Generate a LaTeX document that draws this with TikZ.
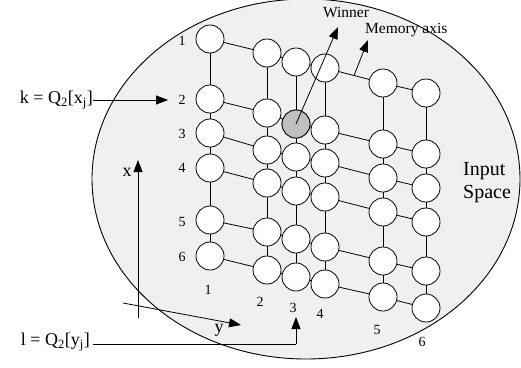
\documentclass[tikz,border=0pt]{standalone}
\usepackage{fontspec}
\setmainfont{Liberation Serif}
\usetikzlibrary{arrows.meta,calc,backgrounds}
\begin{document}
\begin{tikzpicture}[x=1pt,y=-1pt,
  neuron/.style={circle,draw,fill=white,minimum size=28pt,inner sep=0pt,line width=0.8pt},
  winnerneuron/.style={neuron,fill=black!25},
  link/.style={line width=0.8pt},
  arr/.style={line width=0.8pt,-{Triangle[length=12pt,width=9pt]}},
  num/.style={font=\fontsize{14}{16}\selectfont,inner sep=0pt},
  lbl/.style={font=\fontsize{15.5}{18}\selectfont,inner sep=0pt},
  biglbl/.style={font=\fontsize{18}{20}\selectfont,inner sep=0pt},
  spacelbl/.style={font=\fontsize{20}{23}\selectfont,inner sep=0pt,align=left}
]
\useasboundingbox (0,0) rectangle (521,367);
% neurons
\foreach \c/\x/\ys in {1/210/{39,99,133,168,220,256},
                       2/267/{53,113,150,183,232,270},
                       3/296/{62,124,157,191,239,277},
                       4/325/{68,130,163,197,247,284},
                       5/383/{83,144,178,212,261,297},
                       6/426/{93,154,188,222,271,308}}{
  \foreach \y [count=\r] in \ys {
    \node[neuron] (n\c\r) at (\x,\y) {};
  }
}
\node[winnerneuron] at (n32) {};
\begin{pgfonlayer}{background}
  \draw[fill=black!6,line width=0.9pt] (306,179) ellipse [x radius=214, y radius=180];
  \foreach \c in {1,...,6}{
    \foreach \r [evaluate=\r as \rn using int(\r+1)] in {1,...,5}{
      \draw[link] (n\c\r.center) -- (n\c\rn.center);
    }
  }
  \foreach \r in {1,...,6}{
    \foreach \c [evaluate=\c as \cn using int(\c+1)] in {1,...,5}{
      \draw[link] (n\c\r.center) -- (n\cn\r.center);
    }
  }
\end{pgfonlayer}
% row labels
\foreach \r/\y in {1/41,2/100,3/134,4/168,5/222,6/257}{
  \node[num] (rl\r) at (182,\y) {\r};
}
% column labels
\foreach \c/\x/\y in {1/208/290,2/260/302,3/293/308,4/320/314,5/377/330,6/422/342}{
  \node[num] (cl\c) at (\x,\y) {\c};
}
% winner and memory axis
\coordinate (wtip) at (338,27);
\draw[arr] (n32.center) -- (wtip);
\node[lbl] (winner) at (346,12) {Winner};
\coordinate (mbase) at ($(n41)!0.5!(n51)$);
\coordinate (mtip) at (368,40);
\draw[arr] (mbase) -- (mtip);
\node[lbl,anchor=west] (memory) at (365,30) {Memory axis};
% input space
\node[spacelbl,anchor=west] (input) at (463,183) {Input\\Space};
% k label
\node[biglbl,anchor=east] (klbl) at (93,100) {k = Q\textsubscript{2}[x\textsubscript{j}]};
\coordinate (ktip) at (168,100);
\draw[arr] (klbl.east) -- (ktip);
% l label
\node[biglbl,anchor=east] (llbl) at (90,342) {l = Q\textsubscript{2}[y\textsubscript{j}]};
\coordinate (lcorner) at (296,344);
\coordinate (ltip) at (296,317);
\draw[line width=0.8pt] (93,344) -- (lcorner);
\draw[arr] (lcorner) -- (ltip);
% x and y axes
\coordinate (xbase) at (138,318);
\coordinate (xtip) at (138,160);
\draw[arr] (xbase) -- (xtip);
\node[biglbl] (xlbl) at (127,172) {x};
\coordinate (ybase) at (123,303);
\coordinate (ytip) at (241,325);
\draw[arr] (ybase) -- (ytip);
\node[biglbl] (ylbl) at (219,330) {y};
\end{tikzpicture}
\end{document}
